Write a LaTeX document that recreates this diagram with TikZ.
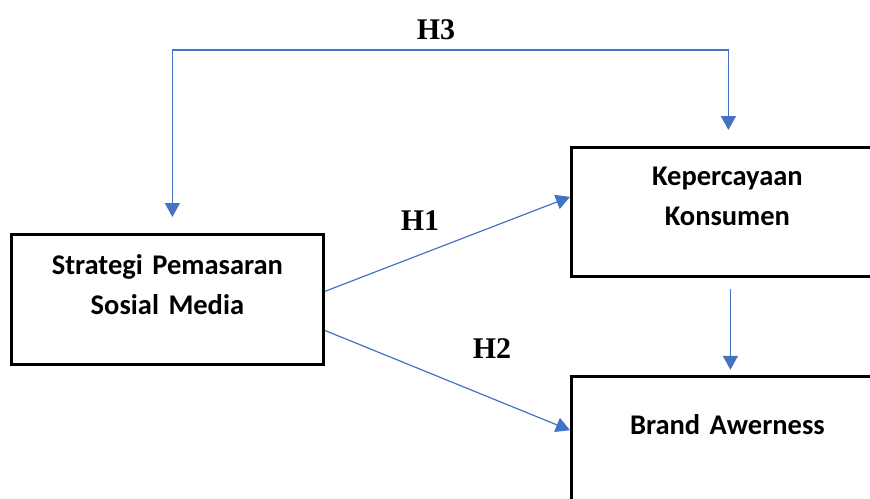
\documentclass[tikz,border=0pt]{standalone}
\usepackage{fontspec}
\usepackage{tikz}
\usetikzlibrary{arrows.meta,positioning,calc}
\newfontfamily\boxfont[WordSpace=0.55]{Carlito}
\newfontfamily\hypfont{Liberation Serif}
\definecolor{pathblue}{HTML}{4472C4}
\tikzset{
  varbox/.style={draw=black,line width=2.8pt,text width=312pt,inner sep=0pt,
    align=center,font=\boxfont\bfseries\fontsize{28.5}{40}\selectfont},
  hyplabel/.style={inner sep=0pt,font=\hypfont\bfseries\fontsize{30}{30}\selectfont},
  effect/.style={-{Triangle[length=14pt,width=15pt]},draw=pathblue,line width=1.2pt}
}

\begin{document}
\begin{tikzpicture}[x=1pt,y=-1pt,node distance=97pt]
\useasboundingbox (0,0) rectangle (870,498);
\clip (0,0) rectangle (870,498);
\node[varbox,anchor=north west,text height=40pt,text depth=90pt] (strategi) at (10,233)
  {Strategi Pemasaran\\Sosial Media};
\node[varbox,anchor=north west,text height=38pt,text depth=91pt] (kepercayaan) at (570,146)
  {Kepercayaan\\Konsumen};
\node[varbox,below=of kepercayaan,text height=58pt,text depth=72pt] (brand) {Brand Awerness};
\coordinate (h3bend) at (450,50);
\node[hyplabel] (h3) at (436,30) {H3};
\node[hyplabel] (h1) at (420,221) {H1};
\node[hyplabel] (h2) at (492,349) {H2};
\draw[effect] ([yshift=8pt]strategi.east) -- ([yshift=15pt]kepercayaan.west);
\draw[effect] ([yshift=-31pt]strategi.east) -- ([yshift=11pt]brand.west);
\draw[effect,line width=1.6pt,shorten <=11pt,shorten >=5pt]
  ([xshift=3pt]kepercayaan.south) -- ([xshift=3pt]brand.north);
\draw[effect,{Triangle[length=14pt,width=15pt]}-{Triangle[length=14pt,width=15pt]},
  line width=1.6pt,shorten <=16pt,shorten >=16pt]
  ([xshift=5pt]strategi.north) |- (h3bend) -| ([xshift=1pt]kepercayaan.north);
\end{tikzpicture}
\end{document}
